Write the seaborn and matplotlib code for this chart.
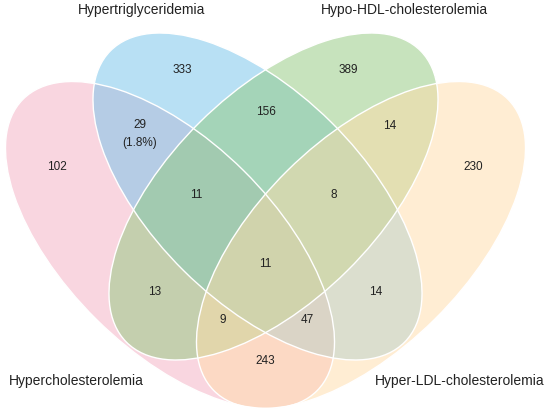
import matplotlib
matplotlib.use('Agg')
import matplotlib.pyplot as plt
from matplotlib.patches import Ellipse
import seaborn as sns

# sets (order of drawing: pink, blue, green, orange)
set_names = ['Hypercholesterolemia', 'Hypertriglyceridemia',
             'Hypo-HDL-cholesterolemia', 'Hyper-LDL-cholesterolemia']
set_colors = ['#F5AFC3', '#73C3EB', '#91C97D', '#FFDDA9']

# region counts
region_counts = [333, 389, 102, 29, 156, 14, 230, 11, 8, 11, 13, 14, 9, 47, 243]
region_notes = ['', '', '', '(1.8%)', '', '', '', '', '', '', '', '', '', '', '']

# layout (pixel space, y down)
ell_centers = [(170, 246), (257.5, 197.5), (273.5, 197.5), (361, 246)]
ell_angles = [44.7, 44.7, -44.7, -44.7]
ell_w, ell_h = 414, 209.3
region_xy = [(182, 70), (348, 70), (57, 167), (140, 125), (266, 112), (390, 126),
             (473, 167), (196, 195), (334, 195), (265, 264), (155, 292),
             (376, 292), (223, 320), (307, 320), (265, 361)]
name_xy = [(9, 381, 'left'), (141.5, 10, 'center'), (404, 10, 'center'), (545, 381, 'right')]

sns.set_theme(style='white')
plt.rcParams['font.family'] = ['Liberation Sans', 'DejaVu Sans']

fig = plt.figure(figsize=(5.5, 4.14), dpi=100)
ax = fig.add_axes([0, 0, 1, 1])
ax.set_xlim(0, 550)
ax.set_ylim(414, 0)
ax.axis('off')

for c, ang, col in zip(ell_centers, ell_angles, set_colors):
    ax.add_patch(Ellipse(c, ell_w, ell_h, angle=ang, facecolor=col,
                         alpha=0.5, edgecolor='none'))
for c, ang in zip(ell_centers, ell_angles):
    ax.add_patch(Ellipse(c, ell_w, ell_h, angle=ang, facecolor='none',
                         edgecolor='white', lw=1.0))

for (x, y), n, note in zip(region_xy, region_counts, region_notes):
    ax.text(x, y, str(n), ha='center', va='center', fontsize=8.5, color='#222222')
    if note:
        ax.text(x, y + 18, note, ha='center', va='center', fontsize=8.5, color='#222222')

for (x, y, ha), name in zip(name_xy, set_names):
    ax.text(x, y, name, ha=ha, va='center', fontsize=10, color='#222222')

fig.savefig('out.png', dpi=100, facecolor='white')
